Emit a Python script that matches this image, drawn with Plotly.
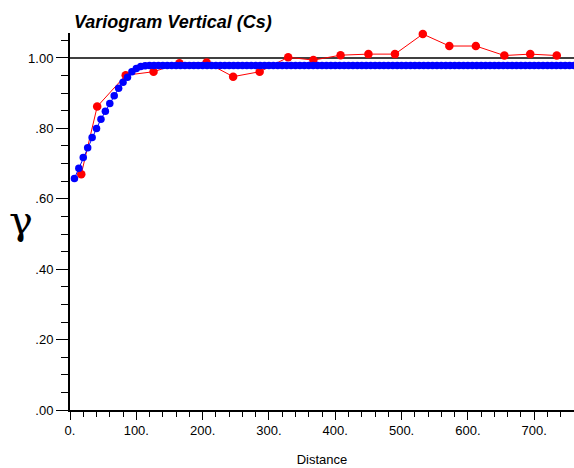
import plotly.graph_objects as go

# Experimental variogram (red)
lag_distance = [17, 41, 84, 126, 165, 206, 246, 286, 329, 367, 408, 450,
                490, 532, 572, 612, 655, 694, 734]
lag_gamma = [0.670, 0.862, 0.951, 0.961, 0.985, 0.987, 0.947, 0.961, 1.002,
             0.994, 1.008, 1.011, 1.011, 1.068, 1.034, 1.034, 1.007, 1.011, 1.007]

# Model variogram (blue), sampled every 20/3 distance units
model_step = 20.0 / 3.0
model_gamma = [
    0.658, 0.687, 0.717, 0.745, 0.774, 0.800, 0.826, 0.849, 0.871, 0.893,
    0.914, 0.931, 0.945, 0.961, 0.970, 0.976, 0.978, 0.979, 0.979, 0.979,
    0.979, 0.979, 0.979, 0.979, 0.979, 0.979, 0.979, 0.979, 0.979, 0.979,
    0.979, 0.979, 0.979, 0.979, 0.979, 0.979, 0.979, 0.979, 0.979, 0.979,
    0.979, 0.979, 0.979, 0.979, 0.979, 0.979, 0.979, 0.979, 0.979, 0.979,
    0.979, 0.979, 0.979, 0.979, 0.979, 0.979, 0.979, 0.979, 0.979, 0.979,
    0.979, 0.979, 0.979, 0.979, 0.979, 0.979, 0.979, 0.979, 0.979, 0.979,
    0.979, 0.979, 0.979, 0.979, 0.979, 0.979, 0.979, 0.979, 0.979, 0.979,
    0.979, 0.979, 0.979, 0.979, 0.979, 0.979, 0.979, 0.979, 0.979, 0.979,
    0.979, 0.979, 0.979, 0.979, 0.979, 0.979, 0.979, 0.979, 0.979, 0.979,
    0.979, 0.979, 0.979, 0.979, 0.979, 0.979, 0.979, 0.979, 0.979, 0.979,
    0.979, 0.979, 0.979, 0.979,
]
model_distance = [model_step * (i + 1) for i in range(len(model_gamma))]

sill = 1.0

x_tickvals = [0, 100, 200, 300, 400, 500, 600, 700]
x_ticktext = ["0.", "100.", "200.", "300.", "400.", "500.", "600.", "700."]
y_tickvals = [0.0, 0.2, 0.4, 0.6, 0.8, 1.0]
y_ticktext = [".00", ".20", ".40", ".60", ".80", "1.00"]

FONT = "Liberation Sans, Arial, sans-serif"

fig = go.Figure()
fig.add_trace(go.Scatter(
    x=lag_distance, y=lag_gamma, mode="lines+markers",
    line=dict(color="#ff0000", width=1),
    marker=dict(color="#ff0000", size=8.5),
    cliponaxis=False, showlegend=False,
))
fig.add_trace(go.Scatter(
    x=model_distance, y=model_gamma, mode="lines+markers",
    line=dict(color="#0000ff", width=1),
    marker=dict(color="#0000ff", size=7.5),
    cliponaxis=True, showlegend=False,
))

fig.add_shape(type="line", xref="paper", yref="y", x0=0, x1=1, y0=sill, y1=sill,
              line=dict(color="black", width=1.3), layer="below")

fig.add_annotation(text="<b><i>Variogram Vertical (Cs)</i></b>",
                   xref="paper", yref="paper", x=0.003, y=1.0, yshift=-1,
                   xanchor="left", yanchor="bottom", showarrow=False,
                   font=dict(family=FONT, size=18, color="black"))
fig.add_annotation(text="γ", xref="paper", yref="paper", x=-0.097, y=0.505,
                   xanchor="center", yanchor="middle", showarrow=False,
                   font=dict(family="DejaVu Serif, Liberation Serif, serif", size=40,
                             color="black"))

fig.update_layout(
    width=574, height=468,
    margin=dict(l=70, r=0, t=33, b=58),
    paper_bgcolor="white", plot_bgcolor="white",
    font=dict(family=FONT, size=13, color="black"),
    xaxis=dict(
        range=[0, 760], tickvals=x_tickvals, ticktext=x_ticktext,
        showgrid=False, zeroline=False, showline=True, linecolor="black", linewidth=1.5,
        ticks="outside", ticklen=8, tickwidth=1, tickcolor="black",
        minor=dict(dtick=20, ticklen=5, tickcolor="black", ticks="outside", showgrid=False),
        title=dict(text="Distance", font=dict(size=13), standoff=18),
        tickfont=dict(size=13),
    ),
    yaxis=dict(
        range=[0, 1.071], tickvals=y_tickvals, ticktext=y_ticktext,
        showgrid=False, zeroline=False, showline=True, linecolor="black", linewidth=2,
        ticks="outside", ticklen=12, tickwidth=1, tickcolor="black",
        minor=dict(dtick=0.05, ticklen=7, tickcolor="black", ticks="outside", showgrid=False),
        tickfont=dict(size=13),
    ),
)

fig.write_html("out.html")
